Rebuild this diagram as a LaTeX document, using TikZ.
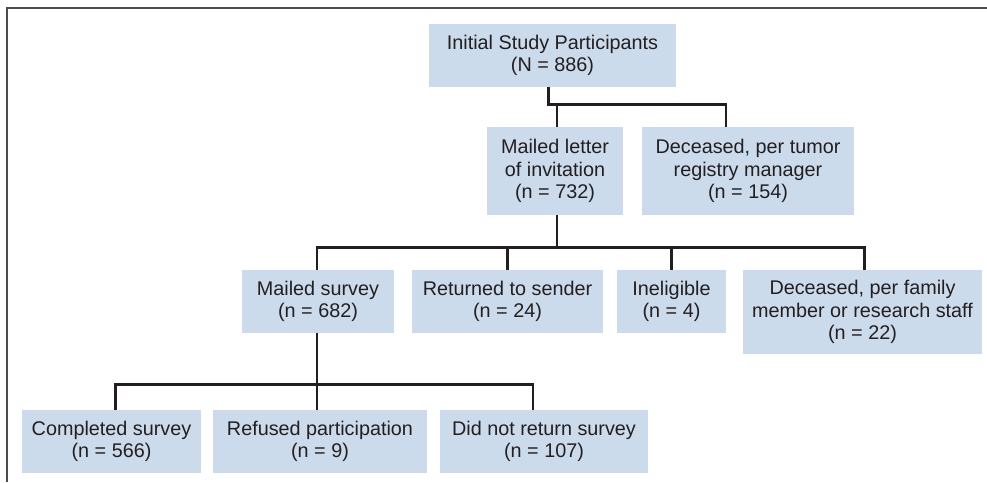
\documentclass[tikz,border=0pt]{standalone}
\usepackage{fontspec}
\setmainfont{Liberation Sans}
\usetikzlibrary{positioning,calc}
\definecolor{boxblue}{RGB}{204,219,236}
\definecolor{ink}{RGB}{35,31,32}

\begin{document}
\begin{tikzpicture}[x=1pt,y=-1pt,
  box/.style={fill=boxblue,inner sep=0pt,align=center,text=ink,font=\fontsize{19.8}{22.5}\selectfont},
  link/.style={draw=ink,line width=2.8pt}]
  \useasboundingbox (0,0) rectangle (987,482);
  \draw[line width=2.2pt,gray!60!black] (987,8) -- (7,8) -- (7,482);
  % boxes
  \node[box,minimum width=247pt,minimum height=63pt] (init) at (552.5,55.5) {Initial Study Participants\\(N = 886)};
  \node[box,minimum width=136pt,minimum height=88pt] (letter) at (555,171) {Mailed letter\\of invitation\\(n = 732)};
  \node[box,minimum width=212pt,minimum height=88pt] (dec1) at (748,171) {Deceased, per tumor\\registry manager\\(n = 154)};
  \node[box,minimum width=152pt,minimum height=63pt] (survey) at (318,301.5) {Mailed survey\\(n = 682)};
  \node[box,minimum width=191pt,minimum height=63pt] (ret) at (507.5,301.5) {Returned to sender\\(n = 24)};
  \node[box,minimum width=109pt,minimum height=63pt] (inel) at (671.5,301.5) {Ineligible\\(n = 4)};
  \node[box,minimum width=239pt,minimum height=84pt] (dec2) at (862.5,312) {Deceased, per family\\member or research staff\\(n = 22)};
  \node[box,minimum width=179pt,minimum height=63pt] (comp) at (111.5,441.5) {Completed survey\\(n = 566)};
  \node[box,minimum width=214pt,minimum height=63pt] (refu) at (320,441.5) {Refused participation\\(n = 9)};
  \node[box,minimum width=208pt,minimum height=63pt] (notret) at (544,441.5) {Did not return survey\\(n = 107)};
  % connectors
  \draw[link] ([xshift=-4pt]init.south) -- ++(0,17) -| ([xshift=2pt]letter.north);
  \draw[link] ([xshift=-4pt]init.south) -- ++(0,17) -| ([xshift=-22pt]dec1.north);
  \foreach \n/\dx in {survey/-1,ret/0,inel/0,dec2/2}
    \draw[link] ([xshift=2pt]letter.south) -- ++(0,32) -| ([xshift=\dx pt]\n.north);
  \foreach \n/\dx in {comp/4,refu/-3,notret/-11}
    \draw[link] ([xshift=-1pt]survey.south) -- ++(0,51) -| ([xshift=\dx pt]\n.north);
\end{tikzpicture}
\end{document}
